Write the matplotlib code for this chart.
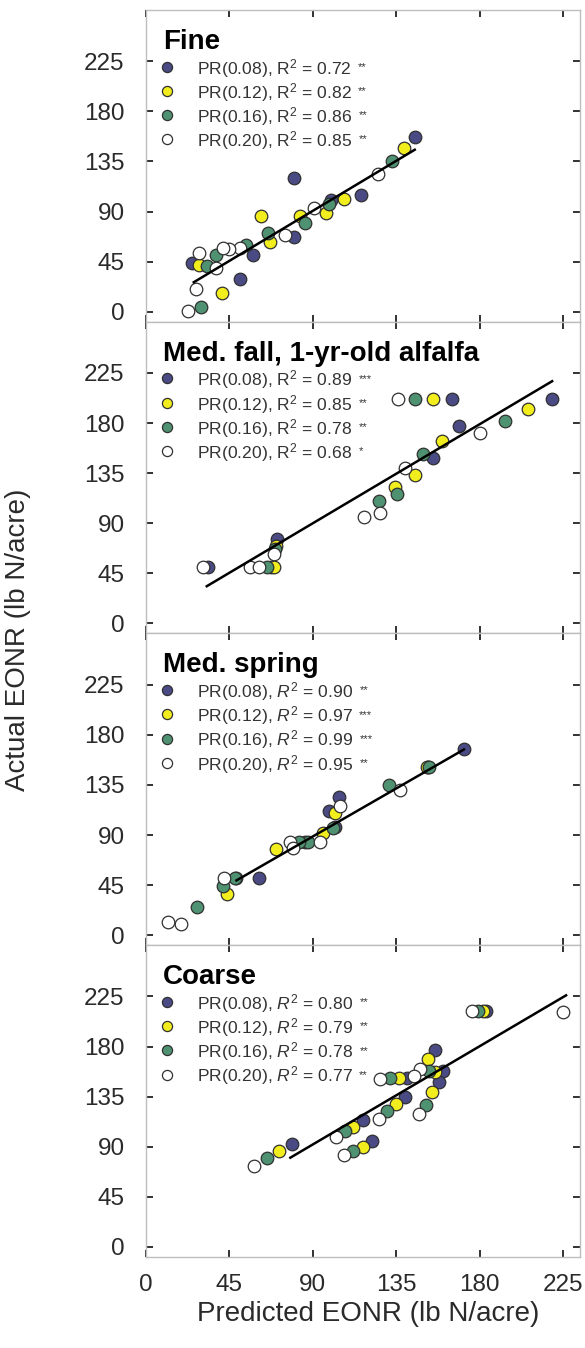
import matplotlib
matplotlib.use("Agg")
import matplotlib.pyplot as plt

plt.rcParams['font.family'] = ['Liberation Sans', 'DejaVu Sans']
plt.rcParams['mathtext.fontset'] = 'custom'
plt.rcParams['mathtext.rm'] = 'Liberation Sans'
plt.rcParams['mathtext.it'] = 'Liberation Sans:italic'
plt.rcParams['mathtext.bf'] = 'Liberation Sans:bold'

# ---- data -------------------------------------------------------------
panel_titles = ["Fine", "Med. fall, 1-yr-old alfalfa", "Med. spring", "Coarse"]
series_names = ["PR(0.08)", "PR(0.12)", "PR(0.16)", "PR(0.20)"]
series_colors = ["#4a4a84", "#f2ee1e", "#4f9271", "#ffffff"]
italic_r2 = [False, False, True, True]

r2_values = [
    ["0.72", "0.82", "0.86", "0.85"],
    ["0.89", "0.85", "0.78", "0.68"],
    ["0.90", "0.97", "0.99", "0.95"],
    ["0.80", "0.79", "0.78", "0.77"],
]
r2_signif = [
    ["**", "**", "**", "**"],
    ["***", "**", "**", "*"],
    ["**", "***", "***", "**"],
    ["**", "**", "**", "**"],
]

# Fine
fine_x = [
    [145, 116, 100, 80, 80, 58, 25, 51],
    [139, 107, 97, 83, 62, 67, 29, 41],
    [133, 99, 86, 66, 54, 38, 33, 30],
    [125, 91, 75, 51, 45, 42, 29, 38, 27, 23],
]
fine_y = [
    [157, 105, 100, 120, 67, 51, 44, 29],
    [147, 101, 89, 86, 86, 63, 42, 17],
    [135, 97, 80, 71, 60, 51, 41, 4],
    [124, 93, 69, 57, 56, 57, 53, 39, 20, 1],
]
# Medium fall, 1-yr-old alfalfa
mfall_x = [
    [219, 165, 169, 155, 71, 67.5, 33.5],
    [206, 155, 159.5, 145, 134.5, 70.5, 69],
    [193.5, 145, 149.5, 135.5, 126, 70, 65.5],
    [180, 136, 140, 126.5, 117.5, 69, 56.5, 61, 31],
]
mfall_y = [
    [202, 202, 177, 149, 76, 51, 51],
    [193, 202, 163.5, 133, 123, 69.5, 51],
    [182, 202, 152, 116.5, 110, 66.5, 51],
    [171, 202, 140, 99, 96, 62, 51, 51, 51],
]
# Medium spring
mspr_x = [
    [171.5, 152, 104, 99, 102, 61, 49, 86],
    [151.5, 102, 95.5, 70.5, 44],
    [152.5, 131, 101, 87.5, 82.5, 42, 48, 28],
    [137, 104.5, 94, 78, 79.5, 42.5, 19, 12],
]
mspr_y = [
    [167, 151, 124, 112, 97, 51, 51, 84],
    [151, 110, 92, 77.5, 37],
    [151, 134.5, 96, 84, 84, 44.5, 51, 25],
    [130.5, 116, 84, 84, 78.5, 51, 10.5, 12],
]
# Coarse
coarse_x = [
    [183.5, 156, 160, 158, 141, 140, 117, 122, 79],
    [181.5, 152, 156, 154.5, 136.5, 135, 112, 117, 72],
    [179, 152.5, 151, 131.5, 130, 107.5, 112, 65.5],
    [225, 176, 148, 147.5, 144.5, 126.5, 125.5, 102.5, 107, 58.5],
]
coarse_y = [
    [212, 177, 158, 148, 152, 135, 114, 95, 92.5],
    [212, 169, 157, 139, 152, 128.5, 108, 90, 86],
    [212, 158.5, 127.5, 152, 122, 104, 86, 79.5],
    [211, 212, 160, 119, 154, 151, 115, 99, 83, 73],
]

# regression line for each panel: slope, intercept, x range
fit_slope = [1.0, 0.99, 0.96, 0.982]
fit_intercept = [0.5, 0.8, 2.2, 3.6]
fit_xmin = [26, 33, 49, 78]
fit_xmax = [145, 219, 171.5, 226.5]

panel_x = [fine_x, mfall_x, mspr_x, coarse_x]
panel_y = [fine_y, mfall_y, mspr_y, coarse_y]

ticks = [0, 45, 90, 135, 180, 225]

# ---- figure -----------------------------------------------------------
W, H = 585, 1348
fig = plt.figure(figsize=(W / 100, H / 100), dpi=100)

left_px, right_px = 145.5, 580
top_px, bottom_px = 10, 1257
ph = (bottom_px - top_px) / 4

text_col = "#2a2a2a"

for p in range(4):
    y_top = top_px + p * ph
    ax = fig.add_axes([left_px / W, 1 - (y_top + ph) / H,
                       (right_px - left_px) / W, ph / H])
    ax.set_xlim(0, 234)
    ax.set_ylim(-9, 271)
    ax.set_xticks(ticks)
    ax.set_yticks(ticks)
    for s in ax.spines.values():
        s.set_color("#bdbdbd")
        s.set_linewidth(1.0)
    ax.tick_params(direction="in", length=5, width=1.3, color="#222222",
                   top=True, right=True, labelsize=17.5, labelcolor=text_col)
    ax.tick_params(axis="y", pad=15)
    ax.tick_params(axis="x", pad=12)
    if p < 3:
        ax.tick_params(axis="x", labelbottom=False)

    # points: draw lowest PR first
    for i in range(4):
        ax.scatter(panel_x[p][i], panel_y[p][i], s=82, c=series_colors[i],
                   edgecolors="#303030", linewidths=0.9, zorder=2 + i)

    # fitted line
    xs = [fit_xmin[p], fit_xmax[p]]
    ys = [fit_slope[p] * x + fit_intercept[p] for x in xs]
    ax.plot(xs, ys, color="black", lw=1.8, zorder=10)

    # panel title
    ax.text(0.040, 1 - 39 / ph, panel_titles[p], transform=ax.transAxes,
            fontsize=20, fontweight="bold", color="black", va="baseline",
            ha="left")

    # legend
    for i in range(4):
        my = 1 - (56.7 + 24.2 * i) / ph
        ty = 1 - (64 + 24.2 * i) / ph
        ax.plot([0.049], [my], marker="o", ms=7.3, mfc=series_colors[i],
                mec="#303030", mew=0.9, transform=ax.transAxes, ls="none",
                zorder=20)
        rlab = "$R^2$" if italic_r2[p] else "R$^2$"
        t = ax.text(0.1185, ty, f"{series_names[i]}, {rlab} = {r2_values[p][i]}",
                    transform=ax.transAxes, fontsize=12.6, color="#333333",
                    va="baseline", ha="left", zorder=20)
        ax.annotate(r2_signif[p][i], xy=(1, 0), xycoords=t,
                    xytext=(4.5, 5.5), textcoords="offset points",
                    fontsize=8, color="#333333", va="bottom", ha="left",
                    zorder=20)

fig.text(368 / W, 1 - 1321 / H, "Predicted EONR (lb N/acre)", fontsize=20,
         color=text_col, ha="center", va="baseline")
fig.text(18 / W, 1 - 640 / H, "Actual EONR (lb N/acre)", fontsize=20,
         color=text_col, ha="center", va="center", rotation=90)

fig.savefig("out.png", dpi=100)
